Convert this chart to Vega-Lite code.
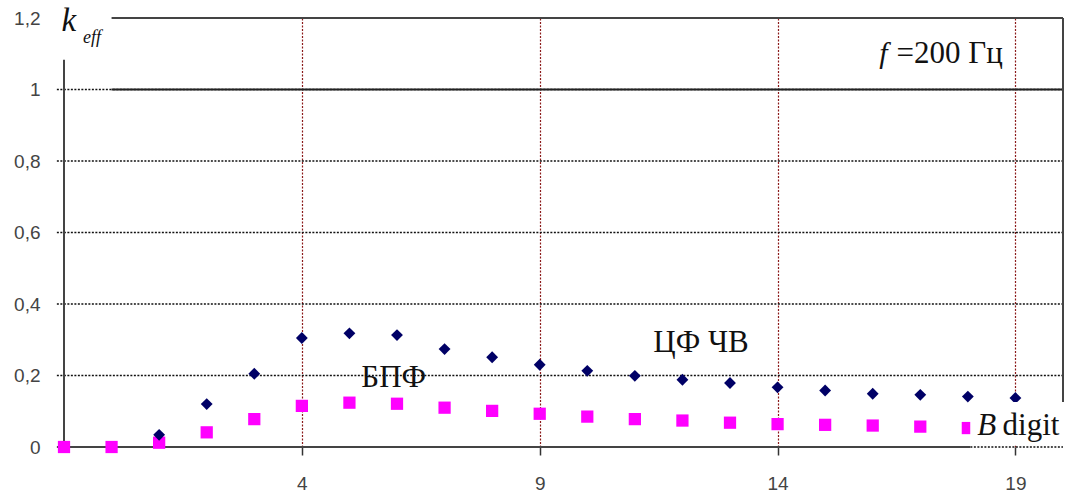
{
  "$schema": "https://vega.github.io/schema/vega-lite/v6.json",
  "width": 999,
  "height": 429,
  "autosize": "none",
  "padding": {"left": 64, "top": 18, "right": 9, "bottom": 53},
  "background": "white",
  "config": {"view": {"stroke": null}},
  "data": {"values": [{}]},
  "datasets": {
    "series": [
      {"b": -1, "k": 0.0, "method": "БПФ"},
      {"b": 0, "k": 0.0, "method": "БПФ"},
      {"b": 1, "k": 0.012, "method": "БПФ"},
      {"b": 2, "k": 0.041, "method": "БПФ"},
      {"b": 3, "k": 0.078, "method": "БПФ"},
      {"b": 4, "k": 0.115, "method": "БПФ"},
      {"b": 5, "k": 0.124, "method": "БПФ"},
      {"b": 6, "k": 0.121, "method": "БПФ"},
      {"b": 7, "k": 0.110, "method": "БПФ"},
      {"b": 8, "k": 0.101, "method": "БПФ"},
      {"b": 9, "k": 0.093, "method": "БПФ"},
      {"b": 10, "k": 0.085, "method": "БПФ"},
      {"b": 11, "k": 0.078, "method": "БПФ"},
      {"b": 12, "k": 0.074, "method": "БПФ"},
      {"b": 13, "k": 0.068, "method": "БПФ"},
      {"b": 14, "k": 0.064, "method": "БПФ"},
      {"b": 15, "k": 0.062, "method": "БПФ"},
      {"b": 16, "k": 0.060, "method": "БПФ"},
      {"b": 17, "k": 0.057, "method": "БПФ"},
      {"b": 18, "k": 0.053, "method": "БПФ"},
      {"b": 1, "k": 0.034, "method": "ЦФ ЧВ"},
      {"b": 2, "k": 0.120, "method": "ЦФ ЧВ"},
      {"b": 3, "k": 0.205, "method": "ЦФ ЧВ"},
      {"b": 4, "k": 0.305, "method": "ЦФ ЧВ"},
      {"b": 5, "k": 0.318, "method": "ЦФ ЧВ"},
      {"b": 6, "k": 0.313, "method": "ЦФ ЧВ"},
      {"b": 7, "k": 0.274, "method": "ЦФ ЧВ"},
      {"b": 8, "k": 0.251, "method": "ЦФ ЧВ"},
      {"b": 9, "k": 0.230, "method": "ЦФ ЧВ"},
      {"b": 10, "k": 0.213, "method": "ЦФ ЧВ"},
      {"b": 11, "k": 0.199, "method": "ЦФ ЧВ"},
      {"b": 12, "k": 0.188, "method": "ЦФ ЧВ"},
      {"b": 13, "k": 0.179, "method": "ЦФ ЧВ"},
      {"b": 14, "k": 0.167, "method": "ЦФ ЧВ"},
      {"b": 15, "k": 0.158, "method": "ЦФ ЧВ"},
      {"b": 16, "k": 0.149, "method": "ЦФ ЧВ"},
      {"b": 17, "k": 0.146, "method": "ЦФ ЧВ"},
      {"b": 18, "k": 0.141, "method": "ЦФ ЧВ"},
      {"b": 19, "k": 0.137, "method": "ЦФ ЧВ"}
    ],
    "hgrid": [{"v": 0}, {"v": 0.2}, {"v": 0.4}, {"v": 0.6}, {"v": 0.8}, {"v": 1.0}]
  },
  "layer": [
    {
      "data": {"name": "hgrid"},
      "mark": {"type": "rule", "color": "#111", "strokeWidth": 1.3, "strokeDash": [2, 1.5]},
      "encoding": {
        "y": {"field": "v", "type": "quantitative", "scale": {"domain": [0, 1.2], "nice": false, "zero": false},
          "axis": {"values": [0, 0.2, 0.4, 0.6, 0.8, 1, 1.2], "labelExpr": "replace(format(datum.value, '.1~f'), '.', ',')",
            "grid": false, "ticks": false, "domain": false, "title": null, "labelPadding": 24,
            "labelFont": "Liberation Sans", "labelFontSize": 19, "labelColor": "#444"}},
        "x": {"datum": -1.15, "type": "quantitative",
          "scale": {"domain": [-1, 20], "nice": false, "zero": false},
          "axis": {"values": [4, 9, 14, 19], "grid": true, "gridColor": "#8b1a1a", "gridDash": [2, 1.5], "gridWidth": 1.2,
            "domain": false, "ticks": true, "tickSize": 8, "tickColor": "#333", "tickWidth": 1.5, "title": null,
            "labelPadding": 19, "labelFont": "Liberation Sans", "labelFontSize": 19, "labelColor": "#444"}},
        "x2": {"datum": 20}
      }
    },
    {
      "mark": {"type": "rule", "color": "#222", "strokeWidth": 2},
      "encoding": {"x": {"datum": 0, "type": "quantitative"}, "x2": {"datum": 20}, "y": {"datum": 1, "type": "quantitative"}}
    },
    {
      "mark": {"type": "rule", "color": "#444", "strokeWidth": 2},
      "encoding": {"x": {"datum": 0, "type": "quantitative"}, "x2": {"datum": 20}, "y": {"datum": 1.2, "type": "quantitative"}}
    },
    {
      "mark": {"type": "rule", "color": "#444", "strokeWidth": 2},
      "encoding": {"x": {"datum": 20, "type": "quantitative"}, "y": {"datum": 0.126, "type": "quantitative"}, "y2": {"datum": 1.2}}
    },
    {
      "mark": {"type": "rule", "color": "#444", "strokeWidth": 2},
      "encoding": {"x": {"datum": -1, "type": "quantitative"}, "y": {"datum": 0, "type": "quantitative"}, "y2": {"datum": 1.083}}
    },
    {
      "mark": {"type": "rule", "color": "#444", "strokeWidth": 2},
      "encoding": {"x": {"datum": -1, "type": "quantitative"}, "x2": {"datum": 18.05}, "y": {"datum": 0, "type": "quantitative"}}
    },
    {
      "data": {"name": "series"},
      "mark": {"type": "point", "filled": true, "opacity": 1},
      "encoding": {
        "x": {"field": "b", "type": "quantitative"},
        "y": {"field": "k", "type": "quantitative"},
        "shape": {"field": "method", "type": "nominal", "scale": {"domain": ["ЦФ ЧВ", "БПФ"], "range": ["diamond", "square"]}, "legend": null},
        "color": {"field": "method", "type": "nominal", "scale": {"domain": ["ЦФ ЧВ", "БПФ"], "range": ["#000066", "#ff00ff"]}, "legend": null},
        "size": {"field": "method", "type": "nominal", "scale": {"domain": ["ЦФ ЧВ", "БПФ"], "range": [140, 150]}, "legend": null}
      }
    },
    {
      "mark": {"type": "rect", "color": "white"},
      "encoding": {"x": {"datum": 18.05, "type": "quantitative"}, "x2": {"datum": 20.3}, "y": {"datum": 0.126, "type": "quantitative"}, "y2": {"datum": 0.004}}
    },
    {
      "mark": {"type": "text", "font": "Liberation Serif", "fontStyle": "italic", "fontSize": 33, "align": "left", "baseline": "alphabetic", "color": "#111"},
      "encoding": {"x": {"datum": -1.05, "type": "quantitative"}, "y": {"datum": 1.163, "type": "quantitative"}, "text": {"value": "k"}}
    },
    {
      "mark": {"type": "text", "font": "Liberation Serif", "fontStyle": "italic", "fontSize": 18, "align": "left", "baseline": "alphabetic", "color": "#111"},
      "encoding": {"x": {"datum": -0.6, "type": "quantitative"}, "y": {"datum": 1.13, "type": "quantitative"}, "text": {"value": "eff"}}
    },
    {
      "mark": {"type": "text", "font": "Liberation Serif", "fontStyle": "italic", "fontSize": 30, "align": "left", "baseline": "alphabetic", "color": "#111"},
      "encoding": {"x": {"datum": 16.14, "type": "quantitative"}, "y": {"datum": 1.074, "type": "quantitative"}, "text": {"value": "f"}}
    },
    {
      "mark": {"type": "text", "font": "Liberation Serif", "fontSize": 31, "align": "left", "baseline": "alphabetic", "color": "#111"},
      "encoding": {"x": {"datum": 16.5, "type": "quantitative"}, "y": {"datum": 1.074, "type": "quantitative"}, "text": {"value": "=200 Гц"}}
    },
    {
      "mark": {"type": "text", "font": "Liberation Serif", "fontSize": 31, "align": "center", "baseline": "alphabetic", "color": "#111"},
      "encoding": {"x": {"datum": 5.93, "type": "quantitative"}, "y": {"datum": 0.169, "type": "quantitative"}, "text": {"value": "БПФ"}}
    },
    {
      "mark": {"type": "text", "font": "Liberation Serif", "fontSize": 31, "align": "center", "baseline": "alphabetic", "color": "#111"},
      "encoding": {"x": {"datum": 12.39, "type": "quantitative"}, "y": {"datum": 0.266, "type": "quantitative"}, "text": {"value": "ЦФ ЧВ"}}
    },
    {
      "mark": {"type": "text", "font": "Liberation Serif", "fontStyle": "italic", "fontSize": 31, "align": "left", "baseline": "alphabetic", "color": "#111"},
      "encoding": {"x": {"datum": 18.2, "type": "quantitative"}, "y": {"datum": 0.034, "type": "quantitative"}, "text": {"value": "B"}}
    },
    {
      "mark": {"type": "text", "font": "Liberation Serif", "fontSize": 31, "align": "left", "baseline": "alphabetic", "color": "#111"},
      "encoding": {"x": {"datum": 18.73, "type": "quantitative"}, "y": {"datum": 0.034, "type": "quantitative"}, "text": {"value": "digit"}}
    }
  ]
}
